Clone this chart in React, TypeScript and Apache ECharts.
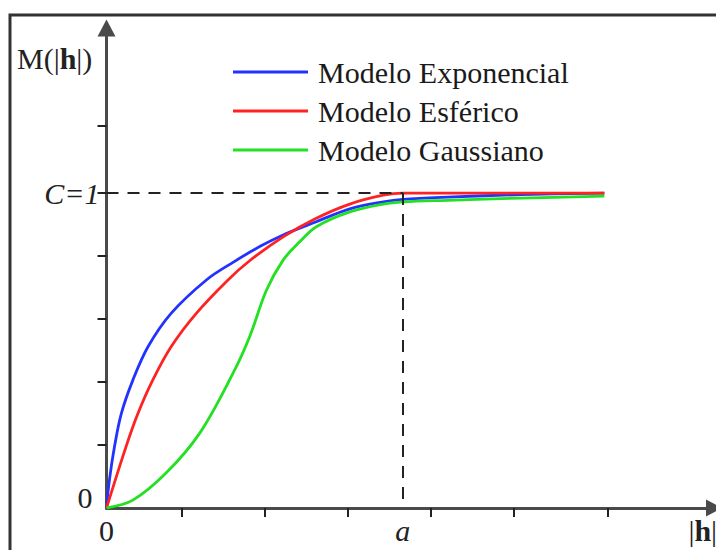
import React, { useEffect, useRef } from 'react';
import * as echarts from 'echarts';

// x in units of the range a, y in units of the sill C
const seriesNames = ['Modelo Exponencial', 'Modelo Esférico', 'Modelo Gaussiano'];
const seriesColors = ['#2233ff', '#ff2222', '#22e022'];

const exponencial: [number, number][] = [
  [0, 0], [0.01, 0.09], [0.027, 0.195], [0.05, 0.3], [0.089, 0.406], [0.14, 0.512],
  [0.218, 0.618], [0.337, 0.724], [0.427, 0.78], [0.517, 0.83], [0.596, 0.867],
  [0.708, 0.909], [0.821, 0.95], [0.934, 0.972], [1.0, 0.98], [1.15, 0.987],
  [1.4, 0.995], [1.68, 1.0],
];
const esferico: [number, number][] = [
  [0, 0], [0.066, 0.195], [0.106, 0.3], [0.156, 0.406], [0.218, 0.512], [0.303, 0.618],
  [0.41, 0.724], [0.483, 0.785], [0.596, 0.861], [0.708, 0.92], [0.821, 0.965],
  [0.934, 0.993], [1.0, 1.0], [1.68, 1.0],
];
const gaussiano: [number, number][] = [
  [0, 0], [0.089, 0.025], [0.2, 0.11], [0.314, 0.237], [0.427, 0.428], [0.483, 0.544],
  [0.54, 0.692], [0.596, 0.787], [0.652, 0.845], [0.708, 0.893], [0.821, 0.94],
  [0.934, 0.965], [1.0, 0.972], [1.15, 0.977], [1.4, 0.984], [1.68, 0.99],
];

const rangeA = 1;
const sillC = 1;
const xMax = 2.05;
const yMax = 1.524;
const xTickValues = [0.253, 0.534, 0.814, 1.093, 1.375, 1.691];
const yTickValues = [0.2, 0.4, 0.6, 0.8, 1.0, 1.215];
const xLabelValues = [0, rangeA, 2.012];
const xLabelTexts = ['{n|0}', '{i|a}', '{n||}{b|h}{n||}'];
const yLabelValues = [0, sillC];
const yLabelTexts = ['{z|0}', '{i|C=1}'];
const yAxisTitle = 'M(|{b|h}|)';

const FONT = '"Liberation Serif", "Times New Roman", serif';

export default function App() {
  const ref = useRef<HTMLDivElement>(null);
  useEffect(() => {
    if (!ref.current) return;
    const chart = echarts.init(ref.current, null, { renderer: 'svg' });
    const data = [exponencial, esferico, gaussiano];
    const pickLabel = (vals: number[], texts: string[]) => (v: number) => {
      let best = 0;
      for (let i = 1; i < vals.length; i++) {
        if (Math.abs(vals[i] - v) < Math.abs(vals[best] - v)) best = i;
      }
      return texts[best];
    };
    chart.setOption({
      animation: false,
      backgroundColor: '#ffffff',
      grid: { left: 106.5, right: 2, top: 28, bottom: 42, containLabel: false, outerBoundsMode: 'none' },
      legend: {
        orient: 'vertical',
        left: 228,
        top: 52,
        icon: 'rect',
        itemWidth: 75,
        itemHeight: 3,
        itemGap: 9,
        data: seriesNames,
        textStyle: { fontFamily: FONT, fontSize: 30, lineHeight: 30, color: '#1a1a1a', padding: [0, 0, 0, 5] },
      },
      xAxis: {
        type: 'value',
        min: 0,
        max: xMax,
        splitLine: { show: false },
        axisLine: {
          show: true,
          symbol: ['none', 'triangle'],
          symbolSize: [17, 16],
          lineStyle: { color: '#4a4a4a', width: 3 },
        },
        axisTick: { show: true, customValues: xTickValues, length: 9, lineStyle: { color: '#222', width: 2 } },
        axisLabel: {
          show: true,
          customValues: xLabelValues,
          formatter: pickLabel(xLabelValues, xLabelTexts),
          margin: 7,
          fontFamily: FONT,
          fontSize: 30,
          color: '#222',
          rich: {
            n: { fontFamily: FONT, fontSize: 30, color: '#222' },
            i: { fontFamily: FONT, fontSize: 30, fontStyle: 'italic', color: '#222' },
            b: { fontFamily: FONT, fontSize: 30, fontWeight: 'bold', color: '#222' },
          },
        },
      },
      yAxis: {
        type: 'value',
        min: 0,
        max: yMax,
        splitLine: { show: false },
        axisLine: {
          show: true,
          symbol: ['none', 'triangle'],
          symbolSize: [18, 17],
          lineStyle: { color: '#4a4a4a', width: 3 },
        },
        axisTick: { show: true, customValues: yTickValues, length: 9, lineStyle: { color: '#222', width: 2 } },
        axisLabel: {
          show: true,
          customValues: yLabelValues,
          formatter: pickLabel(yLabelValues, yLabelTexts),
          margin: 7,
          fontFamily: FONT,
          fontSize: 30,
          color: '#222',
          rich: {
            z: { fontFamily: FONT, fontSize: 30, color: '#222', padding: [0, 7, 22, 0] },
            i: { fontFamily: FONT, fontSize: 30, fontStyle: 'italic', color: '#222' },
          },
        },
      },
      graphic: [
        {
          type: 'rect',
          shape: { x: 10, y: 15, width: 730, height: 580 },
          style: { fill: 'none', stroke: '#333', lineWidth: 3 },
          z: 100,
        },
        {
          type: 'text',
          x: 17,
          y: 43,
          style: {
            text: yAxisTitle,
            fontFamily: FONT,
            fontSize: 30,
            fill: '#222',
            verticalAlign: 'top',
            rich: { b: { fontFamily: FONT, fontSize: 30, fontWeight: 'bold', fill: '#222' } },
          },
        },
      ],
      series: seriesNames.map((name, i) => ({
        name,
        type: 'line',
        data: data[i],
        color: seriesColors[i],
        symbol: 'none',
        showSymbol: false,
        smooth: 0.35,
        lineStyle: { width: 2.8, color: seriesColors[i] },
        z: 3,
        markLine: i === 0 ? {
          silent: true,
          symbol: ['none', 'none'],
          label: { show: false },
          lineStyle: { color: '#222', width: 2, type: [12, 9] },
          data: [
            [{ coord: [0, sillC] }, { coord: [rangeA, sillC] }],
            [{ coord: [rangeA, sillC] }, { coord: [rangeA, 0] }],
          ],
        } : undefined,
      })),
    });
    return () => chart.dispose();
  }, []);
  return (
    <div
      ref={ref}
      style={{ position: 'absolute', left: 0, top: 0, width: 716, height: 550 }}
    />
  );
}
